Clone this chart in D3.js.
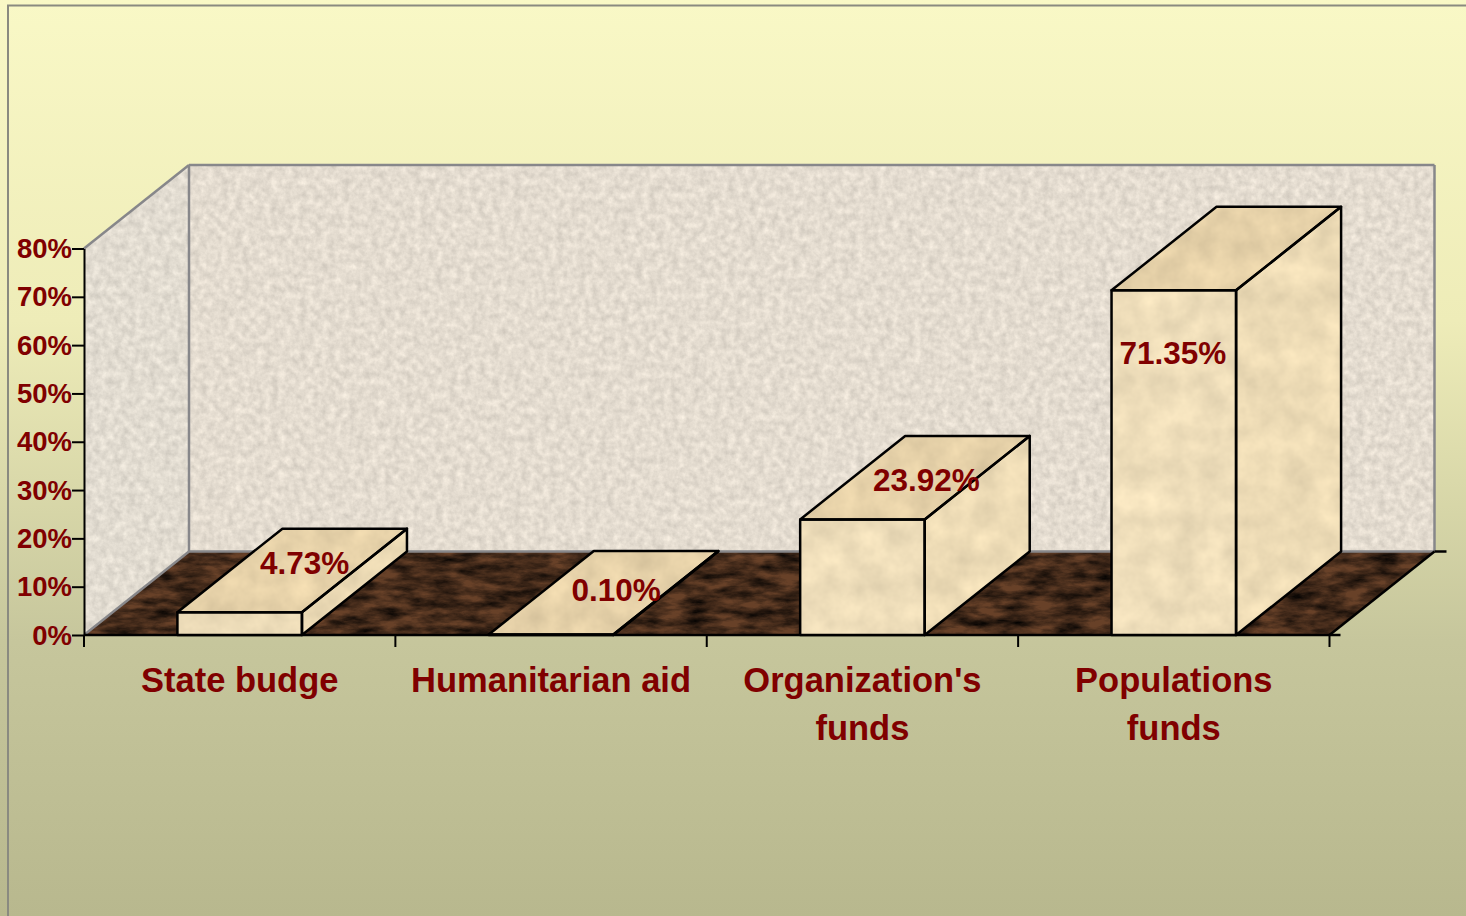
<!DOCTYPE html>
<html>
<head>
<meta charset="utf-8">
<script src="https://cdnjs.cloudflare.com/ajax/libs/d3/7.8.5/d3.min.js"></script>
<style>
    html, body { margin: 0; padding: 0; overflow: hidden; }
    svg { display: block; }
    text { font-family: "Liberation Sans", Arial, sans-serif; font-weight: bold; fill: #800000; }
</style>
</head>
<body>
<div id="chart"></div>
<script>
// chart values
var categories = ["State budge", "Humanitarian aid", "Organization's funds", "Populations funds"];
var categoryLines = [["State budge"], ["Humanitarian aid"], ["Organization's", "funds"], ["Populations", "funds"]];
var values = [4.73, 0.10, 23.92, 71.35];
var valueLabels = ["4.73%", "0.10%", "23.92%", "71.35%"];
var yTicks = [0, 10, 20, 30, 40, 50, 60, 70, 80];

var width = 1466, height = 916;

// the 3d box: front plane and how far the back wall is shifted
var plotLeft = 84, plotRight = 1329.5, plotBottom = 635, plotTop = 248.5;
var depthX = 105, depthY = 83.5;

var svg = d3.select("#chart").append("svg")
    .attr("width", width)
    .attr("height", height);

var defs = svg.append("defs");

// page background
var bg = defs.append("linearGradient").attr("id", "bg")
    .attr("x1", 0).attr("y1", 0).attr("x2", 0).attr("y2", 1);
bg.append("stop").attr("offset", "0%").attr("stop-color", "#f9f8c6");
bg.append("stop").attr("offset", "35%").attr("stop-color", "#eeecb8");
bg.append("stop").attr("offset", "70%").attr("stop-color", "#c6c69c");
bg.append("stop").attr("offset", "100%").attr("stop-color", "#b8b88e");

// texture filter: noise multiplied into the flat fill
function texture(id, freq, octaves, seed, gain, lift) {
    var row = gain + " 0 0 0 " + lift;
    var f = defs.append("filter").attr("id", id)
        .attr("x", 0).attr("y", 0).attr("width", 1).attr("height", 1)
        .attr("color-interpolation-filters", "sRGB");
    f.append("feTurbulence")
        .attr("type", "fractalNoise")
        .attr("baseFrequency", freq)
        .attr("numOctaves", octaves)
        .attr("seed", seed)
        .attr("result", "noise");
    f.append("feColorMatrix").attr("in", "noise").attr("type", "matrix")
        .attr("values", [row, row, row, "0 0 0 0 1"].join(" ")).attr("result", "tint");
    f.append("feComposite").attr("in", "tint").attr("in2", "SourceGraphic")
        .attr("operator", "arithmetic")
        .attr("k1", 1.55).attr("k2", 0).attr("k3", 0).attr("k4", 0)
        .attr("result", "mix");
    f.append("feComposite").attr("in", "mix").attr("in2", "SourceGraphic")
        .attr("operator", "in");
}

texture("stone", "0.14", 4, 3, 0.14, 0.575);
texture("marble", "0.035", 4, 8, 0.11, 0.585);
texture("soil", "0.035 0.11", 5, 12, 1.5, -0.1);

function poly(g, pts, fill, filter) {
    var p = g.append("polygon")
        .attr("points", pts.map(function (d) { return d.join(","); }).join(" "))
        .attr("fill", fill);
    if (filter) p.attr("filter", "url(#" + filter + ")");
    return p;
}

svg.append("rect").attr("width", width).attr("height", height).attr("fill", "url(#bg)");
// outer frame, runs off the page on the right and at the bottom
svg.append("rect")
    .attr("x", 8).attr("y", 5.5)
    .attr("width", width + 20).attr("height", height + 20)
    .attr("fill", "none").attr("stroke", "#8a8a80").attr("stroke-width", 2);

var x = d3.scaleBand()
    .domain(categories)
    .range([plotLeft, plotRight])
    .paddingInner(0.6)
    .paddingOuter(0.3);

var y = d3.scaleLinear()
    .domain([0, 80])
    .range([plotBottom, plotTop]);

var backLeft = plotLeft + depthX, backRight = plotRight + depthX;
var backBottom = plotBottom - depthY, backTop = plotTop - depthY;

// walls and floor
var walls = svg.append("g");
poly(walls, [[backLeft, backTop], [backRight, backTop], [backRight, backBottom], [backLeft, backBottom]], "#e4dcd0", "stone");
poly(walls, [[plotLeft, plotTop], [backLeft, backTop], [backLeft, backBottom], [plotLeft, plotBottom]], "#e2dcd1", "stone");
poly(walls, [[plotLeft, plotBottom], [backLeft, backBottom], [backRight, backBottom], [plotRight, plotBottom]], "#432a1a", "soil");

var wallLines = [
    [[plotLeft, plotTop], [backLeft, backTop]],
    [[backLeft, backTop], [backRight, backTop]],
    [[backRight, backTop], [backRight, backBottom]],
    [[backLeft, backTop], [backLeft, backBottom]],
    [[plotLeft, plotBottom], [backLeft, backBottom]],
    [[backLeft, backBottom], [backRight, backBottom]]
];
walls.selectAll("line.wall")
    .data(wallLines)
    .enter()
    .append("line")
    .attr("class", "wall")
    .attr("x1", function (d) { return d[0][0]; })
    .attr("y1", function (d) { return d[0][1]; })
    .attr("x2", function (d) { return d[1][0]; })
    .attr("y2", function (d) { return d[1][1]; })
    .attr("stroke", "#87878a")
    .attr("stroke-width", 2.5);

// y axis
var yAxis = svg.append("g")
    .attr("transform", "translate(" + plotLeft + ",0)")
    .call(d3.axisLeft(y)
        .tickValues(yTicks)
        .tickFormat(function (d) { return d + "%"; })
        .tickSize(12)
        .tickSizeOuter(0)
        .tickPadding(0));
yAxis.select(".domain").attr("stroke", "#000").attr("stroke-width", 2);
yAxis.selectAll(".tick line").attr("stroke", "#000").attr("stroke-width", 2);
yAxis.selectAll(".tick text")
    .attr("x", -12)
    .attr("dy", "0.33em")
    .style("font-size", "27.5px")
    .attr("fill", "#800000");

// x axis line, slanted edge and the ticks between the categories
var axisG = svg.append("g").attr("stroke", "#000").attr("stroke-width", 2.5);
axisG.append("line").attr("x1", plotLeft).attr("x2", plotRight + 11).attr("y1", plotBottom).attr("y2", plotBottom);
axisG.append("line").attr("x1", plotRight).attr("y1", plotBottom).attr("x2", backRight).attr("y2", backBottom);
axisG.append("line").attr("x1", backRight).attr("y1", backBottom).attr("x2", backRight + 12).attr("y2", backBottom);
axisG.selectAll("line.xtick")
    .data(d3.range(categories.length + 1))
    .enter()
    .append("line")
    .attr("class", "xtick")
    .attr("stroke-width", 2)
    .attr("x1", function (i) { return plotLeft + i * x.step(); })
    .attr("x2", function (i) { return plotLeft + i * x.step(); })
    .attr("y1", plotBottom)
    .attr("y2", plotBottom + 12);

// bars, front + side + top faces
var bars = svg.selectAll("g.bar")
    .data(categories)
    .enter()
    .append("g")
    .attr("class", "bar");

bars.each(function (d, i) {
    var g = d3.select(this);
    var x0 = x(d), x1 = x0 + x.bandwidth();
    var yTop = y(values[i]);
    var front = [[x0, yTop], [x1, yTop], [x1, plotBottom], [x0, plotBottom]];
    var side = [[x1, yTop], [x1 + depthX, yTop - depthY], [x1 + depthX, plotBottom - depthY], [x1, plotBottom]];
    var topFace = [[x0, yTop], [x0 + depthX, yTop - depthY], [x1 + depthX, yTop - depthY], [x1, yTop]];
    poly(g, side, "#efddb7", "marble");
    poly(g, front, "#f0dfbb", "marble");
    poly(g, topFace, "#e8d3aa", "marble");
    [side, front, topFace].forEach(function (pts) {
        poly(g, pts, "none")
            .attr("stroke", "#000")
            .attr("stroke-width", 2.5)
            .attr("stroke-linejoin", "round");
    });
});

// value labels sit on the top face, except the tall bar
var labelNudge = [[65, -49], [65, -45], [64, -40], [-1, 62]];
svg.selectAll("text.value")
    .data(valueLabels)
    .enter()
    .append("text")
    .attr("class", "value")
    .attr("x", function (d, i) { return x(categories[i]) + x.bandwidth() / 2 + labelNudge[i][0]; })
    .attr("y", function (d, i) { return y(values[i]) + labelNudge[i][1]; })
    .attr("dy", "0.36em")
    .attr("text-anchor", "middle")
    .style("font-size", "31.5px")
    .text(function (d) { return d; });

// category labels
var catLabels = svg.selectAll("text.cat")
    .data(categories)
    .enter()
    .append("text")
    .attr("class", "cat")
    .attr("text-anchor", "middle")
    .attr("transform", function (d) { return "translate(" + (x(d) + x.bandwidth() / 2) + ",692)"; })
    .style("font-size", "34.5px");

catLabels.selectAll("tspan")
    .data(function (d, i) { return categoryLines[i]; })
    .enter()
    .append("tspan")
    .attr("x", 0)
    .attr("y", function (d, i) { return i * 47.5; })
    .text(function (d) { return d; });
</script>
</body>
</html>
